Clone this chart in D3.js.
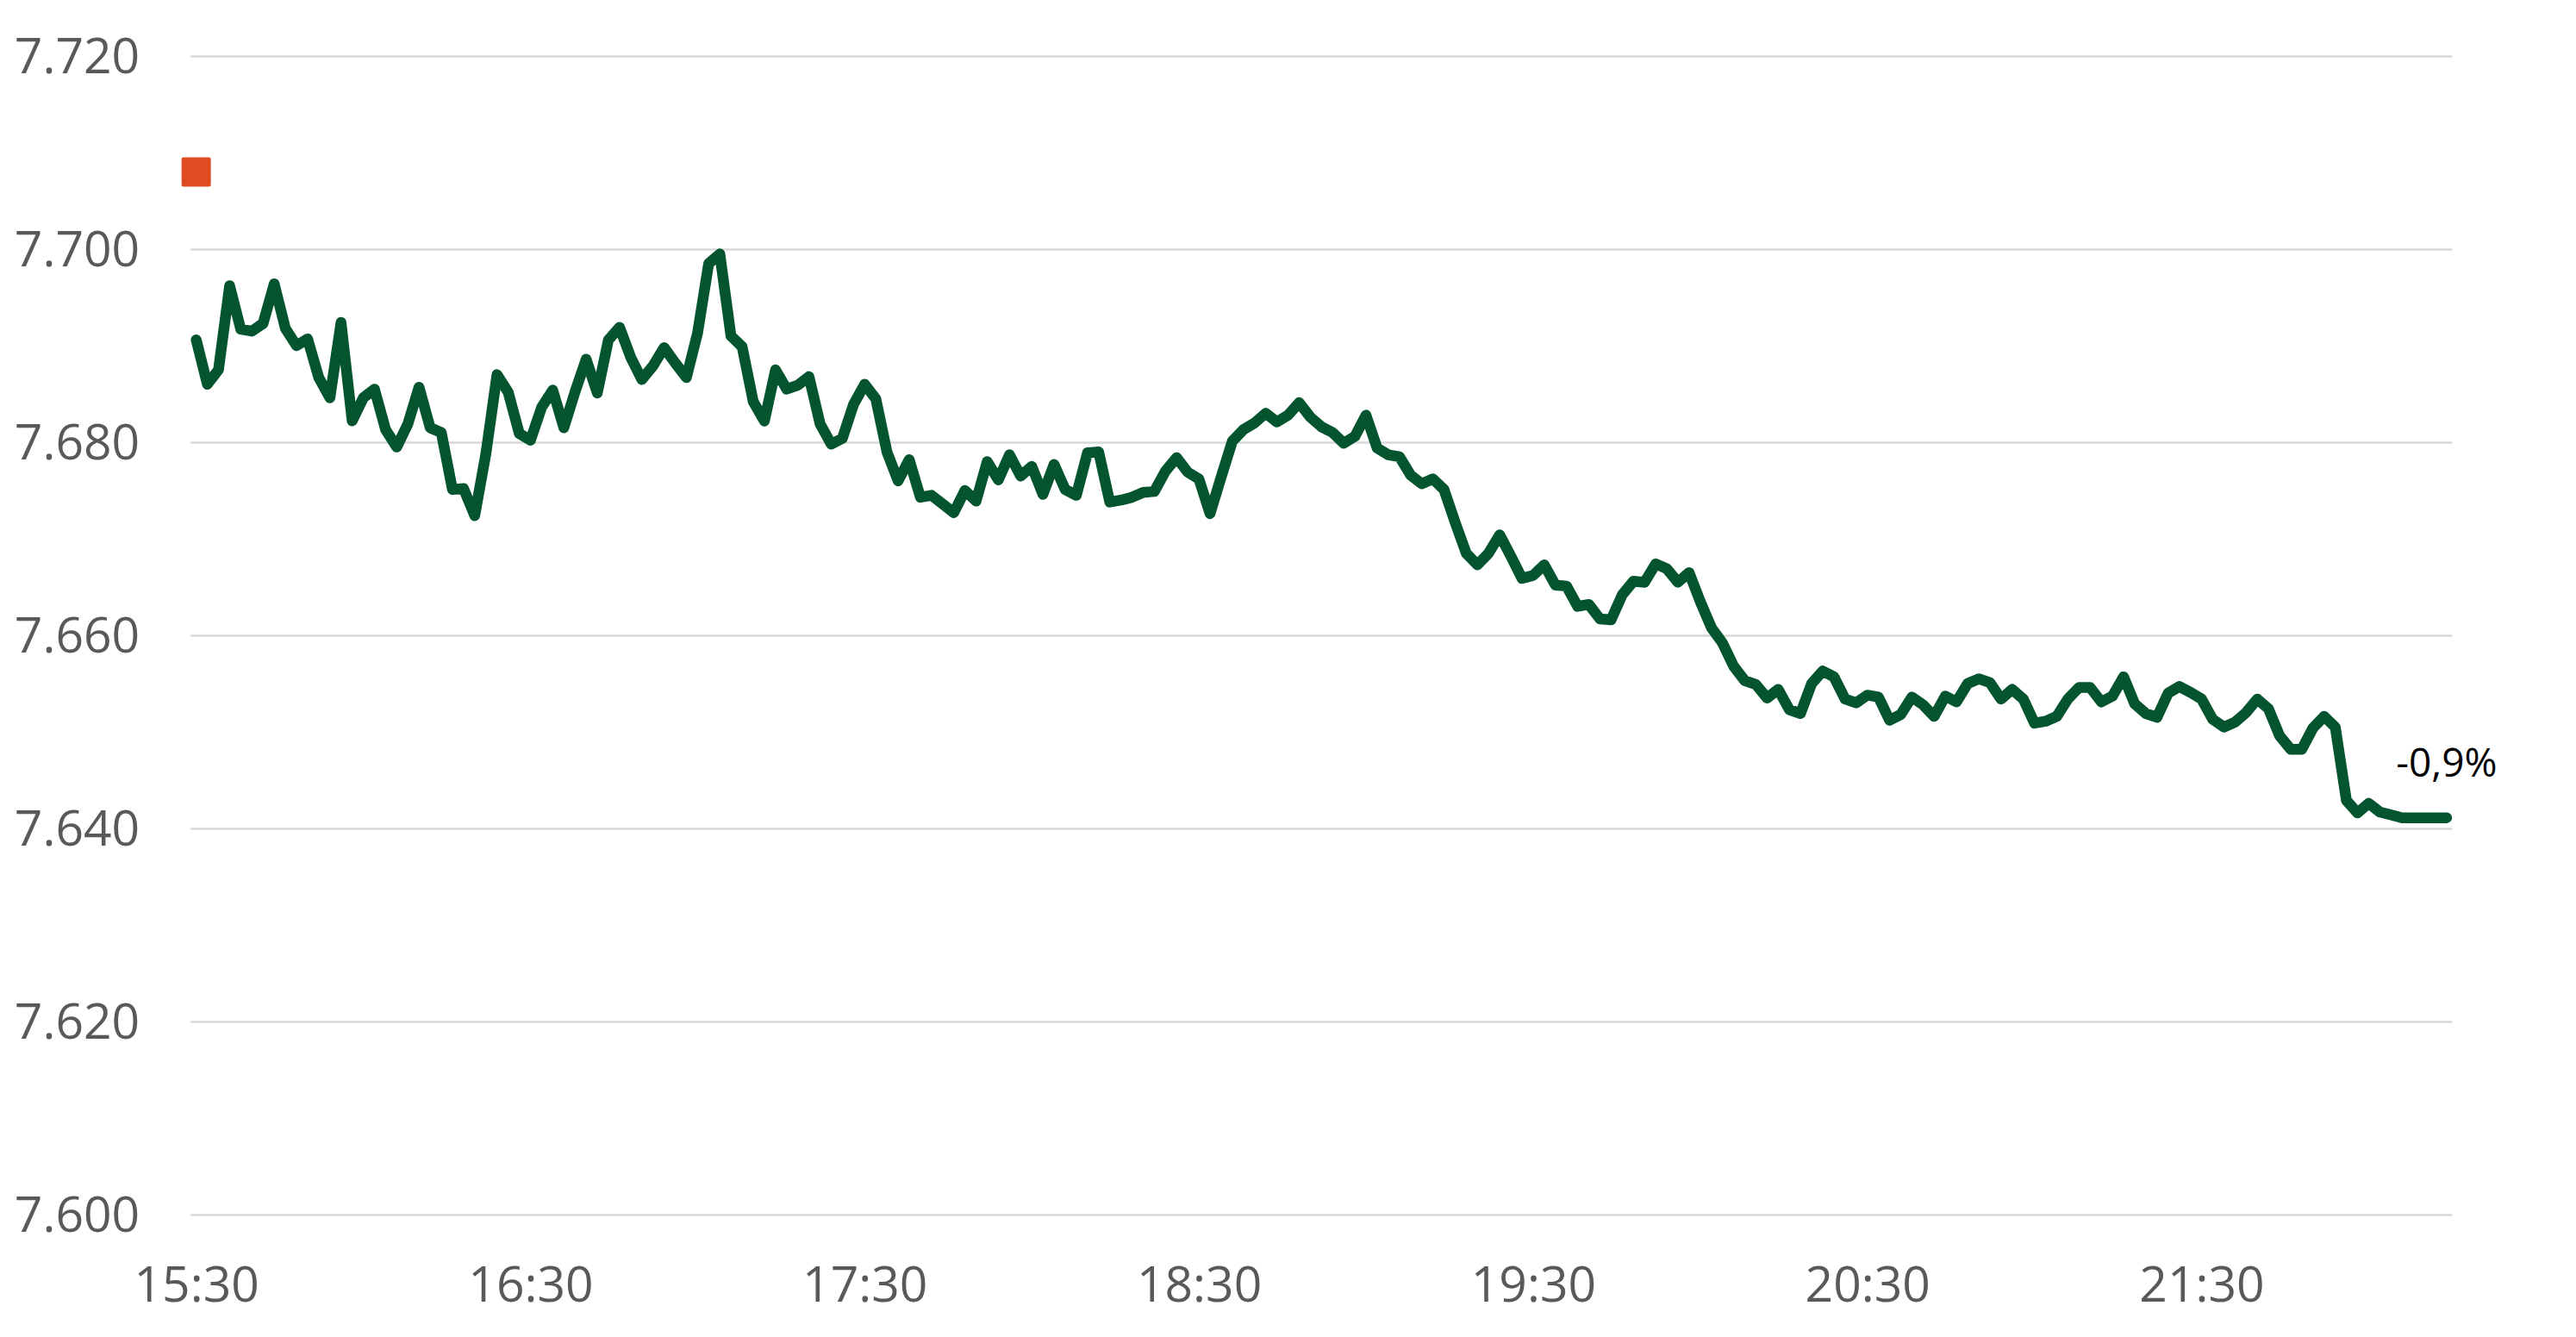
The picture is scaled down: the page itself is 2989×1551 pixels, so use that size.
<!DOCTYPE html>
<html>
<head>
<meta charset="utf-8">
<script src="https://cdn.jsdelivr.net/npm/d3@7"></script>
<style>
    html, body { margin: 0; padding: 0; background: #ffffff; }
    svg { display: block; font-family: "Open Sans", "Noto Sans", sans-serif; }
</style>
</head>
<body>
<div id="chart"></div>
<script>
// categories: one reading every 2 minutes from 15:30
const startTime = "15:30";
const stepMinutes = 2;

// index level
const indexValues = [
    7690.6, 7686.0, 7687.5, 7696.2, 7691.7, 7691.5, 7692.3, 7696.4, 7691.8, 7690.0,
    7690.7, 7686.7, 7684.6, 7692.4, 7682.2, 7684.6, 7685.5, 7681.3, 7679.5, 7681.9,
    7685.7, 7681.5, 7681.0, 7675.1, 7675.2, 7672.4, 7678.8, 7687.0, 7685.2, 7680.9,
    7680.2, 7683.6, 7685.4, 7681.5, 7685.2, 7688.6, 7685.1, 7690.6, 7691.9, 7688.8,
    7686.5, 7687.9, 7689.8, 7688.2, 7686.7, 7691.3, 7698.5, 7699.5, 7691.0, 7689.9,
    7684.2, 7682.2, 7687.5, 7685.5, 7685.9, 7686.8, 7681.9, 7679.8, 7680.4, 7683.9,
    7686.0, 7684.5, 7679.0, 7676.0, 7678.2, 7674.3, 7674.5, 7673.6, 7672.7, 7675.0,
    7673.9, 7678.0, 7676.1, 7678.7, 7676.5, 7677.5, 7674.6, 7677.7, 7675.1, 7674.5,
    7678.9, 7679.0, 7673.8, 7674.0, 7674.3, 7674.8, 7674.9, 7677.0, 7678.4, 7676.9,
    7676.2, 7672.6, 7676.4, 7680.1, 7681.3, 7682.0, 7683.0, 7682.1, 7682.8, 7684.1,
    7682.6, 7681.6, 7681.0, 7679.9, 7680.6, 7682.8, 7679.4, 7678.7, 7678.5, 7676.6,
    7675.7, 7676.2, 7675.1, 7671.7, 7668.5, 7667.3, 7668.5, 7670.4, 7668.2, 7665.9,
    7666.2, 7667.3, 7665.2, 7665.1, 7663.0, 7663.2, 7661.7, 7661.6, 7664.2, 7665.6,
    7665.5, 7667.4, 7666.9, 7665.5, 7666.5, 7663.5, 7660.8, 7659.2, 7656.8, 7655.3,
    7654.9, 7653.5, 7654.4, 7652.3, 7651.9, 7655.0, 7656.3, 7655.7, 7653.4, 7653.0,
    7653.8, 7653.6, 7651.2, 7651.8, 7653.6, 7652.8, 7651.6, 7653.7, 7653.1, 7655.0,
    7655.5, 7655.1, 7653.4, 7654.4, 7653.4, 7650.9, 7651.1, 7651.6, 7653.4, 7654.6,
    7654.6, 7653.1, 7653.7, 7655.7, 7652.9, 7651.9, 7651.5, 7654.0, 7654.7, 7654.1,
    7653.4, 7651.3, 7650.5, 7651.0, 7652.0, 7653.4, 7652.4, 7649.6, 7648.2, 7648.2,
    7650.4, 7651.6, 7650.5, 7642.9, 7641.6, 7642.6, 7641.7, 7641.4, 7641.1, 7641.1,
    7641.1, 7641.1, 7641.1
];

// previous close, drawn as the square marker
const previousClose = [7708.0];

const xTickLabels = ["15:30", "16:30", "17:30", "18:30", "19:30", "20:30", "21:30"];
const yTicks = [7600, 7620, 7640, 7660, 7680, 7700, 7720];

const width = 2989;
const height = 1551;
const margin = { top: 65, right: 143.6, bottom: 142, left: 221.2 };

const colors = {
    line: "#03542f",
    marker: "#e04c22",
    grid: "#d9d9d9",
    tickText: "#595959",
    label: "#000000"
};

const locale = d3.formatLocale({ decimal: ",", thousands: ".", grouping: [3], currency: ["", " kr."], minus: "-" });
const levelFormat = locale.format(",.0f");
const pctFormat = locale.format(".1f");

const parseTime = d3.timeParse("%H:%M");
const formatTime = d3.timeFormat("%H:%M");
const start = parseTime(startTime);
const times = indexValues.map((v, i) => formatTime(d3.timeMinute.offset(start, i * stepMinutes)));
const dataset = indexValues.map((v, i) => ({ time: times[i], value: v }));

const svg = d3.select("#chart").append("svg")
    .attr("width", width)
    .attr("height", height);

const x = d3.scalePoint()
    .domain(times)
    .range([margin.left, width - margin.right])
    .padding(0.5);

const y = d3.scaleLinear()
    .domain([7600, 7720])
    .range([height - margin.bottom, margin.top]);

// y axis with gridlines
const yAxis = svg.append("g")
    .attr("transform", `translate(${margin.left},0)`)
    .call(d3.axisLeft(y)
        .tickValues(yTicks)
        .tickSize(-(width - margin.left - margin.right))
        .tickPadding(59)
        .tickFormat(levelFormat));

yAxis.select(".domain").remove();
yAxis.selectAll(".tick line")
    .attr("stroke", colors.grid)
    .attr("stroke-width", 2.5);
yAxis.selectAll(".tick text")
    .attr("fill", colors.tickText)
    .attr("font-size", 57)
    .attr("font-family", "Open Sans")
    .attr("dy", "0.35em");

// x axis, labels only
const xAxis = svg.append("g")
    .attr("transform", `translate(0,${height - margin.bottom})`)
    .call(d3.axisBottom(x)
        .tickValues(xTickLabels)
        .tickSize(0));

xAxis.select(".domain").remove();
xAxis.selectAll(".tick text")
    .attr("fill", colors.tickText)
    .attr("font-size", 57)
    .attr("font-family", "Open Sans")
    .attr("y", 101)
    .attr("dy", 0);

// index line
const line = d3.line()
    .x(d => x(d.time))
    .y(d => y(d.value));

svg.append("path")
    .datum(dataset)
    .attr("fill", "none")
    .attr("stroke", colors.line)
    .attr("stroke-width", 12.5)
    .attr("stroke-linejoin", "round")
    .attr("stroke-linecap", "round")
    .attr("d", line);

// previous close marker at the first category
const markerSize = 34;
svg.append("g")
    .selectAll("rect")
    .data(previousClose)
    .enter()
    .append("rect")
        .attr("x", x(times[0]) - markerSize / 2)
        .attr("y", d => y(d) - markerSize / 2)
        .attr("width", markerSize)
        .attr("height", markerSize)
        .attr("rx", 2)
        .attr("fill", colors.marker);

// change label at the last point
const last = dataset[dataset.length - 1];
const change = (last.value / previousClose[0] - 1) * 100;
svg.append("text")
    .attr("x", x(last.time))
    .attr("y", y(last.value) - 48)
    .attr("text-anchor", "middle")
    .attr("font-size", 46)
    .attr("font-family", "Open Sans")
    .attr("fill", colors.label)
    .text(pctFormat(change) + "%");
</script>
</body>
</html>
